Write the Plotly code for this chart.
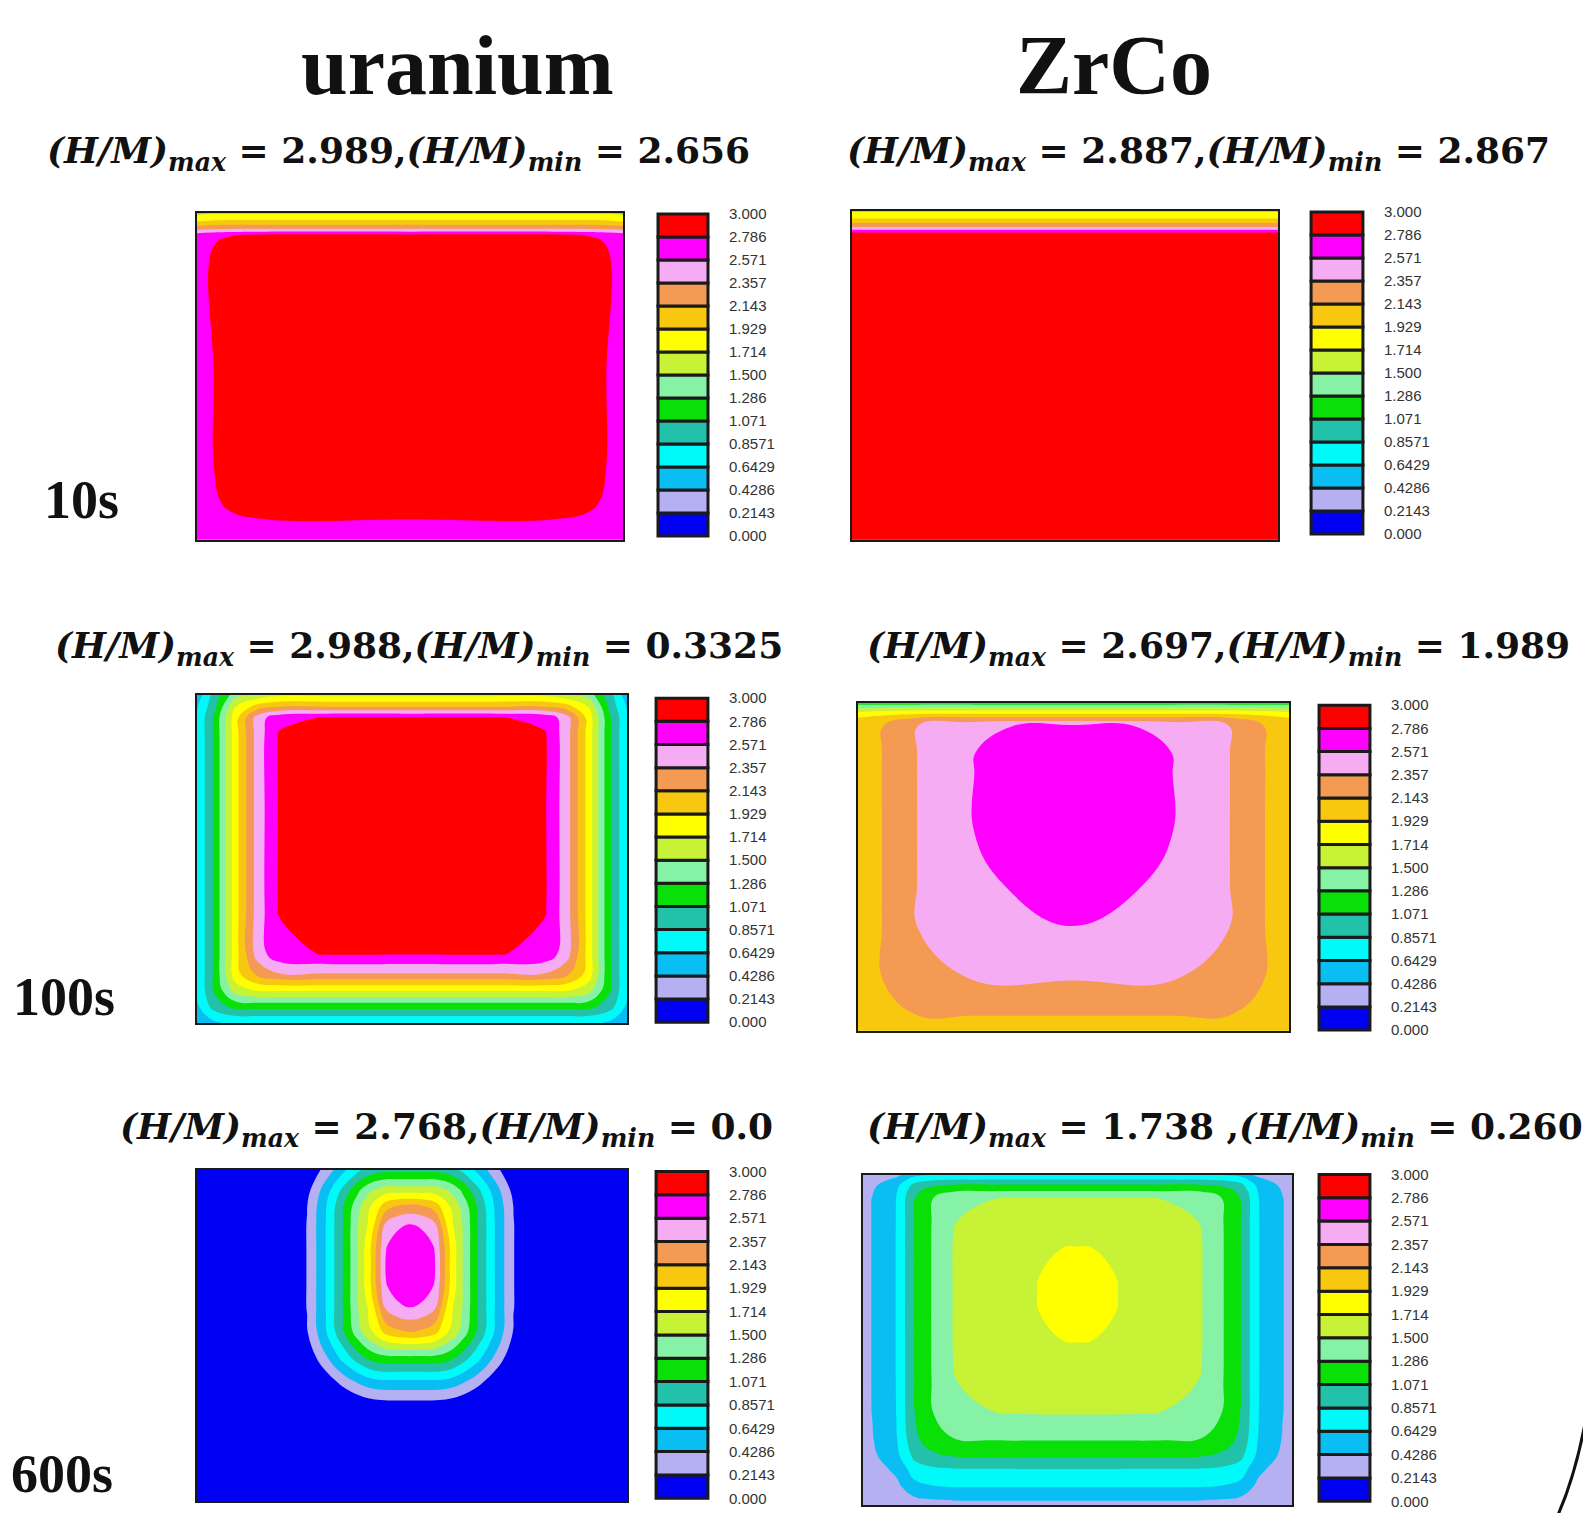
import plotly.graph_objects as go

# ---------------- data ----------------
LEVELS = [0.0, 0.2143, 0.4286, 0.6429, 0.8571, 1.0714, 1.2857, 1.5, 1.7143,
          1.9286, 2.1429, 2.3571, 2.5714, 2.7857, 3.0]
LEVEL_LABELS = ["0.000", "0.2143", "0.4286", "0.6429", "0.8571", "1.071", "1.286",
                "1.500", "1.714", "1.929", "2.143", "2.357", "2.571", "2.786", "3.000"]
BAND_COLORS = ["#0000F5", "#B4B0F2", "#08BEF2", "#00FAFA", "#22C2AA", "#08E008",
               "#86F2A6", "#C8F236", "#FFFF00", "#F8C810", "#F49A52", "#F6ACF2",
               "#FF00FF", "#FF0000"]

COLUMN_TITLES = ["uranium", "ZrCo"]
ROW_LABELS = ["10s", "100s", "600s"]
HM_MAX = ["2.989", "2.887", "2.988", "2.697", "2.768", "1.738 "]
HM_MIN = ["2.656", "2.867", "0.3325", "1.989", "0.0", "0.260"]

# uranium, 10 s
U10_X = [0, 0.035, 0.08, 0.16, 0.5, 0.84, 0.92, 0.965, 1]
U10_Y = [0, 0.06, 0.12, 0.22, 0.5, 0.9, 0.935, 0.955, 0.98, 1]
U10_Z = [
    [2.66, 2.68, 2.69, 2.70, 2.71, 2.70, 2.69, 2.68, 2.66],
    [2.68, 2.73, 2.76, 2.78, 2.78, 2.78, 2.76, 2.73, 2.68],
    [2.69, 2.76, 2.82, 2.90, 2.93, 2.90, 2.82, 2.76, 2.69],
    [2.70, 2.77, 2.92, 2.96, 2.98, 2.96, 2.92, 2.77, 2.70],
    [2.70, 2.77, 2.94, 2.98, 2.989, 2.98, 2.94, 2.77, 2.70],
    [2.70, 2.77, 2.94, 2.98, 2.98, 2.98, 2.94, 2.77, 2.70],
    [2.66, 2.72, 2.76, 2.80, 2.80, 2.80, 2.76, 2.72, 2.66],
    [2.25, 2.28, 2.30, 2.30, 2.30, 2.30, 2.30, 2.28, 2.25],
    [1.85, 1.90, 1.92, 1.92, 1.92, 1.92, 1.92, 1.90, 1.85],
    [1.65, 1.74, 1.78, 1.78, 1.78, 1.78, 1.78, 1.74, 1.65],
]

# ZrCo, 10 s
Z10_X = [0, 0.5, 1]
Z10_Y = [0, 0.9, 0.935, 0.955, 0.98, 1]
Z10_Z = [
    [2.87, 2.88, 2.87],
    [2.88, 2.887, 2.88],
    [2.80, 2.80, 2.80],
    [2.30, 2.30, 2.30],
    [1.90, 1.90, 1.90],
    [1.76, 1.76, 1.76],
]

# uranium, 100 s
U100_X = [0, 0.04, 0.09, 0.14, 0.19, 0.3, 0.5, 0.7, 0.81, 0.86, 0.91, 0.96, 1]
U100_Y = [0, 0.05, 0.1, 0.15, 0.21, 0.35, 0.65, 0.88, 0.93, 0.965, 1]
U100_Z = [
    [0.48, 0.60, 0.65, 0.65, 0.65, 0.65, 0.65, 0.65, 0.65, 0.65, 0.65, 0.60, 0.48],
    [0.60, 0.95, 1.15, 1.15, 1.15, 1.15, 1.15, 1.15, 1.15, 1.15, 1.15, 0.95, 0.60],
    [0.65, 1.10, 1.60, 1.75, 1.75, 1.75, 1.75, 1.75, 1.75, 1.75, 1.60, 1.10, 0.65],
    [0.66, 1.10, 1.85, 2.20, 2.35, 2.35, 2.35, 2.35, 2.35, 2.20, 1.85, 1.10, 0.66],
    [0.66, 1.10, 1.85, 2.45, 2.72, 2.80, 2.80, 2.80, 2.72, 2.45, 1.85, 1.10, 0.66],
    [0.66, 1.10, 1.85, 2.45, 2.80, 2.94, 2.96, 2.94, 2.80, 2.45, 1.85, 1.10, 0.66],
    [0.66, 1.10, 1.85, 2.45, 2.80, 2.95, 2.988, 2.95, 2.80, 2.45, 1.85, 1.10, 0.66],
    [0.66, 1.10, 1.85, 2.45, 2.80, 2.93, 2.95, 2.93, 2.80, 2.45, 1.85, 1.10, 0.66],
    [0.66, 1.10, 1.85, 2.45, 2.72, 2.80, 2.80, 2.80, 2.72, 2.45, 1.85, 1.10, 0.66],
    [0.62, 1.00, 1.70, 2.00, 2.10, 2.10, 2.10, 2.10, 2.10, 2.00, 1.70, 1.00, 0.62],
    [0.50, 0.95, 1.40, 1.55, 1.65, 1.65, 1.65, 1.65, 1.65, 1.55, 1.40, 0.95, 0.50],
]

# ZrCo, 100 s
Z100_X = [0, 0.06, 0.14, 0.27, 0.5, 0.73, 0.86, 0.94, 1]
Z100_Y = [0, 0.05, 0.16, 0.32, 0.45, 0.62, 0.85, 0.93, 0.955, 0.975, 1]
Z100_Z = [
    [1.98, 2.03, 2.05, 2.05, 2.05, 2.05, 2.05, 2.03, 1.98],
    [2.03, 2.08, 2.15, 2.15, 2.15, 2.15, 2.15, 2.08, 2.03],
    [2.05, 2.15, 2.25, 2.37, 2.37, 2.37, 2.25, 2.15, 2.05],
    [2.05, 2.15, 2.365, 2.42, 2.575, 2.42, 2.365, 2.15, 2.05],
    [2.05, 2.15, 2.365, 2.54, 2.65, 2.54, 2.365, 2.15, 2.05],
    [2.05, 2.15, 2.365, 2.575, 2.697, 2.575, 2.365, 2.15, 2.05],
    [2.05, 2.15, 2.365, 2.57, 2.69, 2.57, 2.365, 2.15, 2.05],
    [2.03, 2.15, 2.365, 2.53, 2.64, 2.53, 2.365, 2.15, 2.03],
    [1.95, 2.05, 2.15, 2.20, 2.20, 2.20, 2.15, 2.05, 1.95],
    [1.70, 1.75, 1.80, 1.80, 1.80, 1.80, 1.80, 1.75, 1.70],
    [1.20, 1.20, 1.20, 1.20, 1.20, 1.20, 1.20, 1.20, 1.20],
]

# uranium, 600 s
U600_X = [0, 0.2, 0.256, 0.3, 0.34, 0.375, 0.405, 0.44, 0.468, 0.496, 0.524, 0.552,
          0.587, 0.617, 0.652, 0.692, 0.736, 0.792, 1]
U600_Y = [0, 0.25, 0.305, 0.36, 0.43, 0.51, 0.585, 0.65, 0.71, 0.77, 0.835, 0.89, 0.94, 1]
U600_Z = [
    [0, 0, 0, 0, 0, 0, 0, 0, 0, 0, 0, 0, 0, 0, 0, 0, 0, 0, 0],
    [0, 0, 0.01, 0.01, 0.02, 0.02, 0.03, 0.03, 0.03, 0.03, 0.03, 0.03, 0.03, 0.02, 0.02, 0.01, 0.01, 0, 0],
    [0, 0, 0, 0, 0, 0.12, 0.19, 0.22, 0.22, 0.22, 0.22, 0.22, 0.19, 0.12, 0, 0, 0, 0, 0],
    [0, 0, 0, 0.07, 0.30, 0.46, 0.56, 0.60, 0.60, 0.60, 0.60, 0.60, 0.56, 0.46, 0.30, 0.07, 0, 0, 0],
    [0, 0, 0.03, 0.39, 0.71, 0.96, 1.13, 1.20, 1.20, 1.20, 1.20, 1.20, 1.13, 0.96, 0.71, 0.39, 0.03, 0, 0],
    [0, 0.02, 0.20, 0.63, 1.05, 1.42, 1.70, 2.00, 2.10, 2.14, 2.10, 2.00, 1.70, 1.42, 1.05, 0.63, 0.20, 0.02, 0],
    [0.01, 0.03, 0.22, 0.65, 1.08, 1.50, 1.80, 2.41, 2.531, 2.575, 2.531, 2.41, 1.80, 1.50, 1.08, 0.65, 0.22, 0.03, 0.01],
    [0.01, 0.03, 0.22, 0.65, 1.08, 1.51, 1.94, 2.562, 2.682, 2.723, 2.682, 2.562, 1.94, 1.51, 1.08, 0.65, 0.22, 0.03, 0.01],
    [0.01, 0.03, 0.22, 0.65, 1.08, 1.51, 1.94, 2.607, 2.728, 2.768, 2.728, 2.607, 1.94, 1.51, 1.08, 0.65, 0.22, 0.03, 0.01],
    [0.01, 0.03, 0.22, 0.65, 1.08, 1.51, 1.94, 2.562, 2.682, 2.723, 2.682, 2.562, 1.94, 1.51, 1.08, 0.65, 0.22, 0.03, 0.01],
    [0.01, 0.03, 0.22, 0.65, 1.08, 1.50, 1.80, 2.41, 2.531, 2.575, 2.531, 2.41, 1.80, 1.50, 1.08, 0.65, 0.22, 0.03, 0.01],
    [0.01, 0.02, 0.21, 0.63, 1.06, 1.44, 1.72, 2.05, 2.16, 2.20, 2.16, 2.05, 1.72, 1.44, 1.06, 0.63, 0.21, 0.02, 0.01],
    [0, 0.01, 0.14, 0.54, 0.91, 1.24, 1.47, 1.60, 1.60, 1.60, 1.60, 1.60, 1.47, 1.24, 0.91, 0.54, 0.14, 0.01, 0],
    [0, 0, 0, 0.30, 0.59, 0.81, 0.94, 1.00, 1.00, 1.00, 1.00, 1.00, 0.94, 0.81, 0.59, 0.30, 0, 0, 0],
]

# ZrCo, 600 s
Z600_X = [0, 0.022, 0.078, 0.12, 0.16, 0.21, 0.3, 0.41, 0.5, 0.59, 0.7, 0.79,
          0.84, 0.88, 0.922, 0.978, 1]
Z600_Y = [0, 0.015, 0.055, 0.11, 0.146, 0.196, 0.276, 0.38, 0.497, 0.638, 0.779,
          0.855, 0.93, 0.95, 0.97, 0.985, 1]
Z600_Z = [
    [0.26, 0.26, 0.26, 0.33, 0.364, 0.378, 0.38, 0.38, 0.38, 0.38, 0.38, 0.378, 0.364, 0.33, 0.26, 0.26, 0.26],
    [0.26, 0.26, 0.26, 0.381, 0.417, 0.433, 0.435, 0.435, 0.435, 0.435, 0.435, 0.433, 0.417, 0.381, 0.26, 0.26, 0.26],
    [0.26, 0.26, 0.367, 0.575, 0.625, 0.647, 0.649, 0.65, 0.65, 0.65, 0.649, 0.647, 0.625, 0.575, 0.367, 0.26, 0.26],
    [0.267, 0.314, 0.486, 0.751, 0.823, 0.854, 0.859, 0.86, 0.86, 0.86, 0.859, 0.854, 0.823, 0.751, 0.486, 0.314, 0.267],
    [0.33, 0.381, 0.575, 0.909, 1.017, 1.07, 1.078, 1.08, 1.08, 1.08, 1.078, 1.07, 1.017, 0.909, 0.575, 0.381, 0.33],
    [0.364, 0.417, 0.625, 1.017, 1.174, 1.27, 1.287, 1.29, 1.29, 1.29, 1.287, 1.27, 1.174, 1.017, 0.625, 0.417, 0.364],
    [0.378, 0.433, 0.647, 1.07, 1.27, 1.445, 1.493, 1.505, 1.505, 1.505, 1.493, 1.445, 1.27, 1.07, 0.647, 0.433, 0.378],
    [0.38, 0.435, 0.649, 1.078, 1.287, 1.493, 1.577, 1.61, 1.61, 1.61, 1.577, 1.493, 1.287, 1.078, 0.649, 0.435, 0.38],
    [0.38, 0.435, 0.65, 1.08, 1.29, 1.505, 1.61, 1.708, 1.718, 1.708, 1.61, 1.505, 1.29, 1.08, 0.65, 0.435, 0.38],
    [0.38, 0.435, 0.65, 1.08, 1.29, 1.505, 1.61, 1.718, 1.738, 1.718, 1.61, 1.505, 1.29, 1.08, 0.65, 0.435, 0.38],
    [0.38, 0.435, 0.65, 1.08, 1.29, 1.505, 1.61, 1.708, 1.718, 1.708, 1.61, 1.505, 1.29, 1.08, 0.65, 0.435, 0.38],
    [0.38, 0.435, 0.649, 1.078, 1.287, 1.493, 1.577, 1.61, 1.61, 1.61, 1.577, 1.493, 1.287, 1.078, 0.649, 0.435, 0.38],
    [0.378, 0.433, 0.647, 1.07, 1.27, 1.445, 1.493, 1.505, 1.505, 1.505, 1.493, 1.445, 1.27, 1.07, 0.647, 0.433, 0.378],
    [0.364, 0.417, 0.625, 1.017, 1.174, 1.27, 1.287, 1.29, 1.29, 1.29, 1.287, 1.27, 1.174, 1.017, 0.625, 0.417, 0.364],
    [0.33, 0.381, 0.575, 0.909, 1.017, 1.07, 1.078, 1.08, 1.08, 1.08, 1.078, 1.07, 1.017, 0.909, 0.575, 0.381, 0.33],
    [0.267, 0.314, 0.486, 0.751, 0.823, 0.854, 0.859, 0.86, 0.86, 0.86, 0.859, 0.854, 0.823, 0.751, 0.486, 0.314, 0.267],
    [0.26, 0.26, 0.367, 0.575, 0.625, 0.647, 0.649, 0.65, 0.65, 0.65, 0.649, 0.647, 0.625, 0.575, 0.367, 0.26, 0.26],
]

PANELS = [(U10_X, U10_Y, U10_Z), (Z10_X, Z10_Y, Z10_Z),
          (U100_X, U100_Y, U100_Z), (Z100_X, Z100_Y, Z100_Z),
          (U600_X, U600_Y, U600_Z), (Z600_X, Z600_Y, Z600_Z)]

# ---------------- layout geometry (page pixels) ----------------
PAGE_W, PAGE_H = 1591, 1521
OFF = 8                       # default body margin of the html page
W, H = PAGE_W - 2 * OFF, PAGE_H - 2 * OFF

PANEL_BOX = [(197, 623, 209, 538), (852, 1278, 207, 538),
             (197, 627, 694, 1025), (858, 1289, 703, 1033),
             (197, 627, 1173, 1507), (863, 1292, 1178, 1511)]
CBAR_BOX = [(656, 710, 207, 537), (1309, 1365, 205, 535),
            (654, 710, 695, 1027), (1317, 1372, 702, 1035),
            (654, 710, 1172, 1507), (1317, 1372, 1175, 1510)]


def fx(p):
    return (p - OFF) / W


def fy(p):
    return 1 - (p - OFF) / H


def dom_x(a, b):
    return [max(0.0, fx(a)), min(1.0, fx(b))]


def dom_y(top, bottom):
    return [max(0.0, fy(bottom)), min(1.0, fy(top))]


# stepped colour scale so that every filled band gets exactly its colour
n_lev = len(LEVELS)
cscale = [[0.0, BAND_COLORS[0]]]
for k in range(len(BAND_COLORS)):
    lo = (k + 0.5) / n_lev
    hi = (k + 1.5) / n_lev if k < len(BAND_COLORS) - 1 else 1.0
    if k > 0:
        cscale.append([lo, BAND_COLORS[k]])
    cscale.append([hi, BAND_COLORS[k]])

fig = go.Figure()
layout = {}
band_size = (LEVELS[-1] - LEVELS[0]) / (len(LEVELS) - 1)

for i, (px, py, pz) in enumerate(PANELS):
    a = 2 * i + 1
    b = 2 * i + 2
    fig.add_trace(go.Contour(
        x=px, y=py, z=pz, xaxis=f"x{a}", yaxis=f"y{a}",
        autocontour=False,
        contours=dict(start=LEVELS[0], end=LEVELS[-1], size=band_size,
                      coloring="fill", showlines=False),
        line=dict(width=0, smoothing=1.2),
        colorscale=cscale, zmin=LEVELS[0], zmax=LEVELS[-1],
        showscale=False, hoverinfo="skip"))
    x0, x1, y0, y1 = PANEL_BOX[i]
    common = dict(range=[0, 1], showgrid=False, zeroline=False,
                  showticklabels=False, ticks="", showline=True, mirror=True,
                  linecolor="#1a1a1a", linewidth=2, fixedrange=True)
    layout[f"xaxis{a}"] = dict(common, domain=dom_x(x0, x1), anchor=f"y{a}")
    layout[f"yaxis{a}"] = dict(common, domain=dom_y(y0, y1), anchor=f"x{a}")

    # colour legend bar
    heights = [LEVELS[k + 1] - LEVELS[k] for k in range(len(LEVELS) - 1)]
    fig.add_trace(go.Bar(
        x=[0] * len(heights), y=heights, base=LEVELS[:-1], width=1.0,
        marker=dict(color=BAND_COLORS, line=dict(color="#1a1a1a", width=3)),
        xaxis=f"x{b}", yaxis=f"y{b}", hoverinfo="skip", showlegend=False))
    cx0, cx1, cy0, cy1 = CBAR_BOX[i]
    layout[f"xaxis{b}"] = dict(domain=dom_x(cx0, cx1), range=[-0.54, 0.54],
                               showgrid=False, zeroline=False, showticklabels=False,
                               ticks="", showline=False, fixedrange=True,
                               anchor=f"y{b}")
    layout[f"yaxis{b}"] = dict(domain=dom_y(cy0, cy1), range=[-0.025, 3.025],
                               showgrid=False, zeroline=False, showline=False,
                               side="right", tickmode="array", tickvals=LEVELS,
                               ticktext=LEVEL_LABELS, ticks="outside", ticklen=15,
                               tickcolor="rgba(0,0,0,0)",
                               tickfont=dict(family="Liberation Sans Narrow, Liberation Sans, Arial",
                                             size=15, color="#333"),
                               fixedrange=True, anchor=f"x{b}")

# ---------------- text ----------------
ann = []
TITLE_POS = [(457, 60), (1114, 60)]
for t, (tx, ty) in zip(COLUMN_TITLES, TITLE_POS):
    ann.append(dict(text=f"<b>{t}</b>", x=fx(tx), y=fy(ty), xref="paper", yref="paper",
                    showarrow=False, xanchor="center", yanchor="middle",
                    font=dict(family="Liberation Serif", size=84, color="#111")))

SUB_POS = [(398, 148), (1198, 148), (419, 647), (1218, 647), (446, 1132), (1225, 1132)]
for i, (sx, sy) in enumerate(SUB_POS):
    txt = (f"<b><i>(H/M)</i><sub><i>max</i></sub> = {HM_MAX[i]},"
           f"<i>(H/M)</i><sub><i>min</i></sub> = {HM_MIN[i]}</b>")
    ann.append(dict(text=txt, x=fx(sx), y=fy(sy), xref="paper", yref="paper",
                    showarrow=False, xanchor="center", yanchor="middle",
                    font=dict(family="DejaVu Serif", size=36, color="#111")))

ROW_POS = [(81, 498), (64, 999), (62, 1480)]
for t, (rx, ry) in zip(ROW_LABELS, ROW_POS):
    ann.append(dict(text=f"<b>{t}</b>", x=fx(rx), y=fy(ry), xref="paper", yref="paper",
                    showarrow=False, xanchor="center", yanchor="middle",
                    font=dict(family="Liberation Serif", size=54, color="#111")))

# decorative arc at the lower-right corner of the original picture
arc = dict(type="path", xref="paper", yref="paper",
           path=f"M {fx(1590)},{fy(1398)} Q {fx(1580)},{fy(1470)} {fx(1558)},{fy(1521)}",
           line=dict(color="#111", width=3))

fig.update_layout(
    width=W, height=H, margin=dict(l=0, r=0, t=0, b=0),
    paper_bgcolor="white", plot_bgcolor="white",
    barmode="overlay", showlegend=False,
    annotations=ann, shapes=[arc], **layout)

fig.write_html("out.html")
